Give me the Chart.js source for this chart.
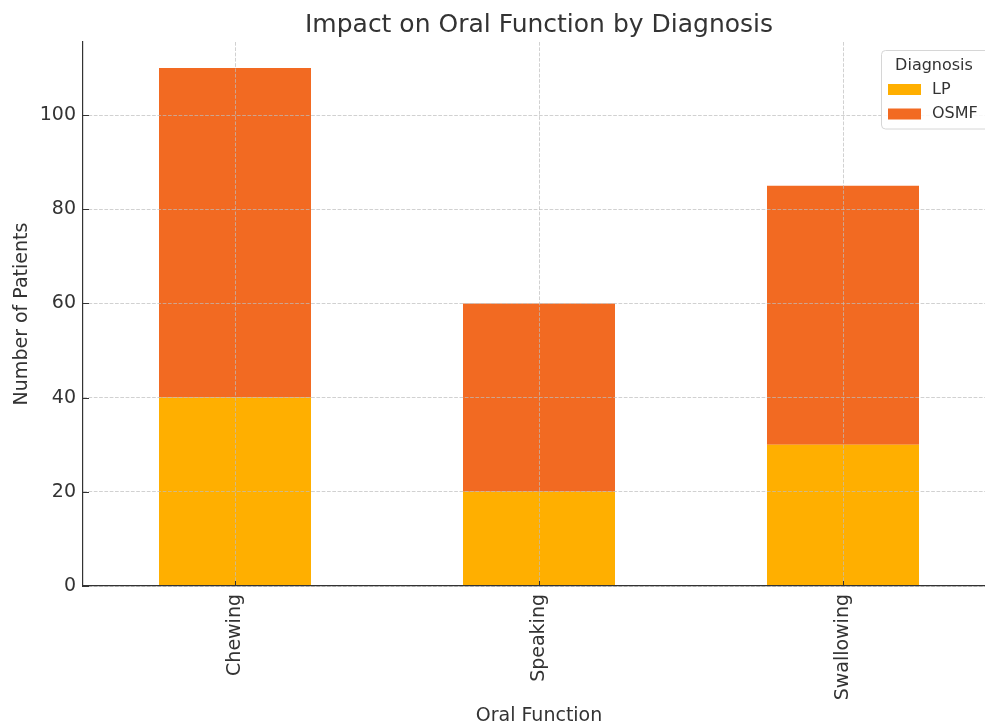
<!DOCTYPE html>
<html>
<head>
<meta charset="utf-8">
<script src="https://cdn.jsdelivr.net/npm/chart.js@4.4.1/dist/chart.umd.min.js"></script>
<style>
  html, body { margin: 0; padding: 0; background: #fff; overflow: hidden; }
  #wrap { width: 985px; height: 727px; overflow: hidden; }
  canvas { display: block; }
</style>
</head>
<body>
<div id="wrap"><canvas id="c" width="995" height="727"></canvas></div>
<script>
const categories = ['Chewing', 'Speaking', 'Swallowing'];
const lpValues = [40, 20, 30];
const osmfValues = [70, 40, 55];
const yTicks = [0, 20, 40, 60, 80, 100];
const seriesNames = ['LP', 'OSMF'];
const titleText = 'Impact on Oral Function by Diagnosis';
const legendTitle = 'Diagnosis';
const xTitle = 'Oral Function';
const yTitle = 'Number of Patients';

const FONT = "'DejaVu Sans', sans-serif";
const TXT = '#333333';
const colors = ['#FFAF00', '#F26A22'];
const GRID = 'rgba(190,190,190,0.7)';

const decorPlugin = {
  id: 'decor',
  afterDraw(chart) {
    const ctx = chart.ctx;
    const ca = chart.chartArea;
    const xs = chart.scales.x, ys = chart.scales.y;
    ctx.save();
    // inward tick marks
    ctx.strokeStyle = '#333';
    ctx.lineWidth = 1;
    ctx.beginPath();
    xs.ticks.forEach((t, i) => {
      const x = Math.round(xs.getPixelForTick(i)) + 0.5;
      ctx.moveTo(x, ca.bottom); ctx.lineTo(x, ca.bottom - 5);
    });
    ys.ticks.forEach((t, i) => {
      const y = Math.round(ys.getPixelForValue(t.value)) + 0.5;
      ctx.moveTo(ca.left, y); ctx.lineTo(ca.left + 6, y);
    });
    ctx.stroke();
    // title
    ctx.fillStyle = TXT;
    ctx.font = '25px ' + FONT;
    ctx.textAlign = 'center';
    ctx.textBaseline = 'middle';
    ctx.fillText(titleText, (ca.left + ca.right) / 2, 25);
    // legend
    const bx = 881.5, by = 50.5, bw = 120, bh = 78.5, r = 4;
    ctx.beginPath();
    ctx.moveTo(bx + r, by);
    ctx.lineTo(bx + bw - r, by);
    ctx.arcTo(bx + bw, by, bx + bw, by + r, r);
    ctx.lineTo(bx + bw, by + bh - r);
    ctx.arcTo(bx + bw, by + bh, bx + bw - r, by + bh, r);
    ctx.lineTo(bx + r, by + bh);
    ctx.arcTo(bx, by + bh, bx, by + bh - r, r);
    ctx.lineTo(bx, by + r);
    ctx.arcTo(bx, by, bx + r, by, r);
    ctx.closePath();
    ctx.fillStyle = 'rgba(255,255,255,0.85)';
    ctx.fill();
    ctx.strokeStyle = '#d6d6d6';
    ctx.lineWidth = 1;
    ctx.stroke();
    ctx.fillStyle = TXT;
    ctx.font = '16px ' + FONT;
    ctx.textAlign = 'center';
    ctx.fillText(legendTitle, 934, 65.5);
    ctx.textAlign = 'left';
    chart.data.datasets.forEach((ds, i) => {
      const yy = 89.5 + i * 24.5;
      ctx.fillStyle = ds.backgroundColor;
      ctx.fillRect(888, yy - 5.5, 33, 11);
      ctx.fillStyle = TXT;
      ctx.fillText(ds.label, 932, yy);
    });
    ctx.restore();
  }
};

new Chart(document.getElementById('c'), {
  type: 'bar',
  data: {
    labels: categories,
    datasets: [
      { label: seriesNames[0], data: lpValues, backgroundColor: colors[0] },
      { label: seriesNames[1], data: osmfValues, backgroundColor: colors[1] }
    ]
  },
  options: {
    responsive: false,
    devicePixelRatio: 1,
    animation: false,
    layout: { padding: { top: 42, left: 0, right: 0, bottom: 0 } },
    datasets: { bar: { barPercentage: 1, categoryPercentage: 0.5, borderWidth: 0 } },
    plugins: {
      legend: { display: false },
      title: { display: false },
      tooltip: { enabled: false }
    },
    scales: {
      x: {
        stacked: true,
        offset: true,
        grid: { offset: false, color: GRID, lineWidth: 1, drawTicks: false, z: 1 },
        border: { display: true, color: '#333', width: 1.2, dash: [3.7, 1.6], z: 2 },
        ticks: { color: TXT, font: { family: FONT, size: 19 }, minRotation: 90, maxRotation: 90, padding: 8 },
        title: { display: true, text: xTitle, color: TXT, font: { family: FONT, size: 19 }, padding: { top: 0, bottom: 0 } },
        afterFit(s) { s.height = 141; }
      },
      y: {
        stacked: true,
        min: 0,
        max: 115.5,
        afterBuildTicks(s) { s.ticks = yTicks.map(v => ({ value: v })); },
        grid: { color: GRID, lineWidth: 1, drawTicks: false, z: 1 },
        border: { display: true, color: '#333', width: 1.2, dash: [3.7, 1.6], z: 2 },
        ticks: { color: TXT, font: { family: FONT, size: 19 }, padding: 7 },
        title: { display: true, text: yTitle, color: TXT, font: { family: FONT, size: 19 }, padding: { top: 11, bottom: 0 } },
        afterFit(s) { s.width = 83; }
      }
    }
  },
  plugins: [decorPlugin]
});
</script>
</body>
</html>
